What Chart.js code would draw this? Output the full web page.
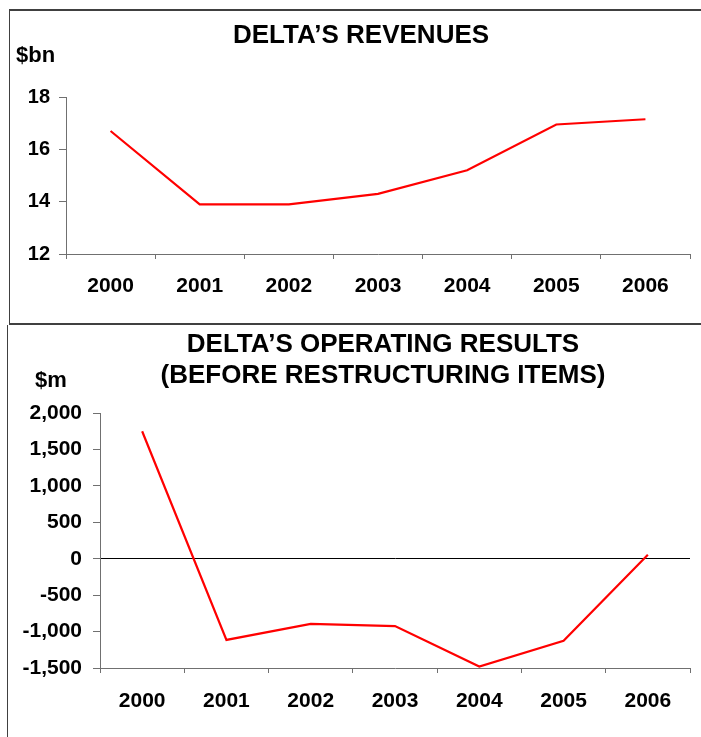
<!DOCTYPE html>
<html>
<head>
<meta charset="utf-8">
<script src="https://cdn.jsdelivr.net/npm/chart.js@4/dist/chart.umd.min.js"></script>
<style>
  body { margin:0; background:#fff; width:701px; height:737px; overflow:hidden; position:relative; }
  #boxTop { position:absolute; left:9px; top:9px; width:720px; height:312px;
            border-top:2px solid #404040; border-left:1px solid #404040; border-bottom:2px solid #404040; }
  #boxBot { position:absolute; left:7px; top:325px; width:720px; height:430px; border-left:1px solid #404040; }
  canvas { position:absolute; left:0; }
  #revChart { top:0; }
  #opChart { top:325px; }
</style>
</head>
<body>
<div id="boxTop"></div>
<div id="boxBot"></div>
<canvas id="revChart" width="701" height="323"></canvas>
<canvas id="opChart" width="701" height="412"></canvas>
<script>
// data
const years = ['2000', '2001', '2002', '2003', '2004', '2005', '2006'];
const revenues = [16.7, 13.9, 13.9, 14.3, 15.2, 16.95, 17.15];   // $bn
const operating = [1750, -1115, -895, -925, -1480, -1125, 55];  // $m

const FONT = '"Liberation Sans", Arial, sans-serif';
const AXIS = '#707070';

// titles + unit labels drawn straight on the canvas
const textPlugin = {
  id: 'texts',
  afterDraw(chart, args, opts) {
    const ctx = chart.ctx;
    ctx.save();
    ctx.fillStyle = '#000';
    ctx.textBaseline = 'alphabetic';
    (opts.items || []).forEach(t => {
      ctx.font = 'bold ' + t.size + 'px ' + FONT;
      ctx.textAlign = t.align || 'left';
      ctx.fillText(t.text, t.x, t.y);
    });
    ctx.restore();
  }
};

function makeChart(id, values, yOpts, dims, texts) {
  return new Chart(document.getElementById(id), {
    type: 'line',
    data: { labels: years, datasets: [{ data: values, borderColor: '#ff0000', borderWidth: 2.2,
            pointRadius: 0, tension: 0, fill: false }] },
    options: {
      responsive: false, animation: false,
      layout: { padding: { left: 0, top: dims.top, right: 11, bottom: 0 } },
      plugins: { legend: { display: false }, tooltip: { enabled: false }, texts: { items: texts } },
      scales: {
        x: {
          offset: true,
          grid: { offset: true, drawOnChartArea: false, tickLength: 5, tickColor: AXIS },
          border: { color: AXIS, width: 1 },
          ticks: { color: '#000', padding: dims.xpad, maxRotation: 0, font: { family: FONT, size: 21, weight: 'bold' } },
          afterFit: s => { s.height = dims.xh; }
        },
        y: Object.assign({
          border: { color: AXIS, width: 1 },
          ticks: { color: '#000', padding: dims.ypad, font: { family: FONT, size: dims.yfont, weight: 'bold' },
                   stepSize: yOpts.step },
          afterFit: s => { s.width = dims.yw; }
        }, yOpts.extra)
      }
    },
    plugins: [textPlugin]
  });
}

makeChart('revChart', revenues,
  { step: 2, extra: { min: 12, max: 18,
    grid: { drawOnChartArea: false, tickLength: 7, tickColor: AXIS } } },
  { top: 97, xh: 69, yw: 66, xpad: 15, ypad: 9, yfont: 20 },
  [ { text: 'DELTA\u2019S REVENUES', x: 361, y: 43, size: 26, align: 'center' },
    { text: '$bn', x: 16, y: 62, size: 22 } ]);

makeChart('opChart', operating,
  { step: 500, extra: { min: -1500, max: 2000,
    grid: { drawOnChartArea: true, tickLength: 7, tickColor: AXIS,
            color: c => (c.tick && c.tick.value === 0) ? '#000' : 'rgba(0,0,0,0)' } } },
  { top: 88, xh: 69, yw: 100, xpad: 16, ypad: 11, yfont: 21 },
  [ { text: 'DELTA\u2019S OPERATING RESULTS', x: 383, y: 27, size: 26, align: 'center' },
    { text: '(BEFORE RESTRUCTURING ITEMS)', x: 383, y: 58, size: 26, align: 'center' },
    { text: '$m', x: 35, y: 62, size: 22 } ]);
</script>
</body>
</html>
